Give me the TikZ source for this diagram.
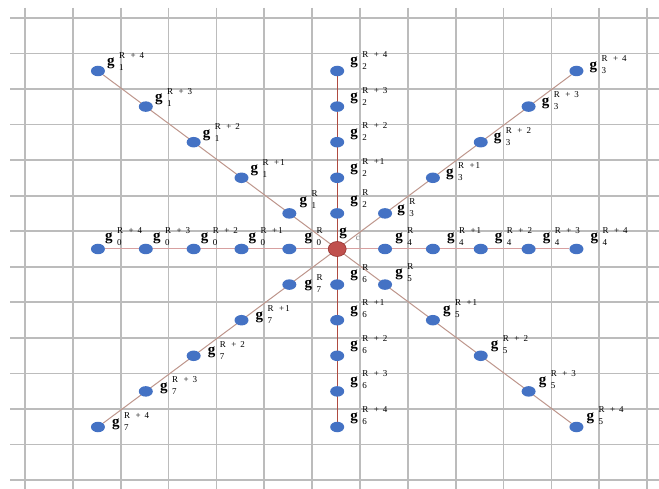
\documentclass[tikz,border=0pt]{standalone}
\usepackage{fontspec}
\setmainfont{Liberation Serif}
\usetikzlibrary{backgrounds,calc,shapes.geometric}
\definecolor{dotblue}{RGB}{68,114,196}
\definecolor{dotred}{RGB}{192,80,77}
\definecolor{dotredborder}{RGB}{150,50,48}
\definecolor{gridgray}{RGB}{188,188,188}
\definecolor{diagline}{RGB}{190,150,140}
\definecolor{vertline}{RGB}{175,75,65}
\definecolor{horline}{RGB}{215,160,160}
\newcommand{\glab}[2]{{\fontsize{15}{15}\selectfont\bfseries g}\kern4.5pt\raisebox{-4.5pt}{\fontsize{9}{12}\selectfont\begin{tabular}[b]{@{}l@{}}#1\\#2\end{tabular}}}
\newcommand{\supR}[1]{\ifcase#1\relax R\or R\kern5.5pt+\kern1pt1\or R\kern5.5pt+\kern4pt2\or R\kern5.5pt+\kern4pt3\or R\kern5.5pt+\kern4pt4\fi}
\begin{document}
\begin{tikzpicture}[x=1pt,y=-1pt,
  bluedot/.style={shape=ellipse,minimum width=14pt,minimum height=10.5pt,inner sep=0pt,fill=dotblue,draw=none},
  reddot/.style={shape=ellipse,minimum width=18pt,minimum height=15pt,inner sep=0pt,fill=dotred,draw=dotredborder,line width=0.6pt},
  gridline/.style={gridgray,line width=1.7pt},
  glabel/.style={anchor=base west,inner sep=0pt,text=black}]
\useasboundingbox (0,0) rectangle (659,489);
\node[reddot] (c) at (337.2,249) {};
\foreach \i/\ux/\uy/\lx/\ly/\zx/\zy in {0/-1/0/7/-8/15/-8, 1/-1/-1/9/-5/10/-9, 2/0/-1/13/-6/13/-10, 3/1/-1/13/-1.5/12/-1, 4/1/0/14/-8/10/-8, 5/1/1/10/-7/10/-8, 6/0/1/13/-7/13/-7, 7/-1/1/14/-1/15/3}{
  \foreach \k in {0,...,4}{
    \node[bluedot] (d\i-\k) at ($(c)+({(\k+1)*47.85*\ux},{(\k+1)*35.6*\uy})$) {};
    \ifnum\k=0 \def\ox{\zx}\def\oy{\zy}\else\def\ox{\lx}\def\oy{\ly}\fi
    \node[glabel] (l\i-\k) at ($(d\i-\k)+(\ox,\oy)$) {\glab{\supR{\k}}{\i}};
  }
}
\node[glabel] (lc) at ($(c)+(2,-13)$) {{\fontsize{15}{15}\selectfont\bfseries g}\kern9pt\raisebox{-5pt}{\fontsize{9}{12}\selectfont\color{gray}c}};
\begin{scope}[on background layer]
  \fill[white] (0,0) rectangle (659,489);
  \foreach \k in {0,...,13}{
    \draw[gridline] ({25+47.85*\k},8) -- ({25+47.85*\k},489);
    \draw[gridline] (10,{18+35.54*\k}) -- (659,{18+35.54*\k});
  }
  \draw[horline,line width=1pt] (d0-4) -- (d4-4);
  \draw[vertline,line width=1.2pt] (d2-4) -- (d6-4);
  \draw[diagline,line width=1pt] (d1-4) -- (d5-4);
  \draw[diagline,line width=1pt] (d3-4) -- (d7-4);
\end{scope}
\end{tikzpicture}
\end{document}
